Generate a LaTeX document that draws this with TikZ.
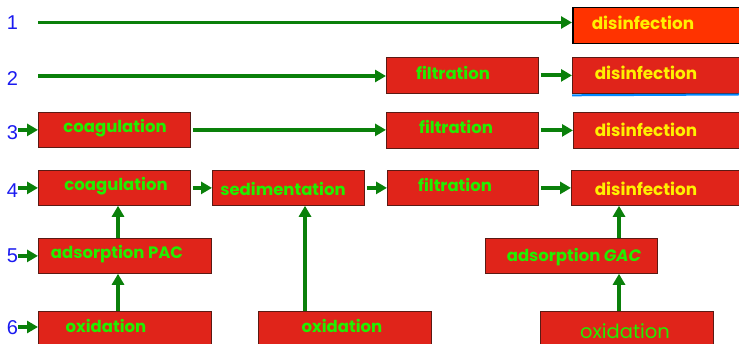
\documentclass[tikz,border=0pt]{standalone}
\usepackage{fontspec}
\setmainfont{Poppins}
\newfontfamily\numfont{Liberation Sans}
\usetikzlibrary{arrows.meta}
\definecolor{boxred}{HTML}{E0241A}
\definecolor{boxedge}{HTML}{5A1A14}
\definecolor{dred}{HTML}{FF3300}
\definecolor{agreen}{HTML}{0A800A}
\definecolor{tgreen}{HTML}{22EE00}
\definecolor{tyellow}{HTML}{FFF000}
\definecolor{nblue}{HTML}{1A1AF0}
\definecolor{lblue}{HTML}{0088FF}
\begin{document}
\begin{tikzpicture}[x=1pt,y=-1pt,
  box/.style={draw=boxedge, line width=0.8pt, fill=boxred, rectangle, anchor=north west, inner sep=0pt},
  gt/.style={text=tgreen, font=\bfseries\fontsize{16.5}{18}\selectfont, inner sep=0pt},
  yt/.style={text=tyellow, font=\bfseries\fontsize{16.8}{18}\selectfont, inner sep=0pt},
  bigt/.style={text=tgreen, font=\fontsize{19.5}{21}\selectfont, inner sep=0pt},
  num/.style={text=nblue, font=\numfont\fontsize{20}{22}\selectfont, inner sep=0pt},
  flow/.style={draw=agreen, line width=3.8pt, -{Triangle[length=11pt,width=12pt]}},
  gapflow/.style={flow, shorten <=2pt}]
\useasboundingbox (0,0) rectangle (739,344);
\clip (0,0) rectangle (739,344);

% boxes
\node[box, fill=dred, draw=black, line width=1.5pt, minimum width=200pt, minimum height=36pt] (dis1) at (572,7) {};
\node[box, minimum width=152pt, minimum height=36pt] (filt2) at (386,57) {};
\node[box, minimum width=200pt, minimum height=36pt] (dis2) at (572,57) {};
\node[box, minimum width=152pt, minimum height=35pt] (coag3) at (38,112) {};
\node[box, minimum width=152pt, minimum height=36pt] (filt3) at (386,112) {};
\node[box, minimum width=200pt, minimum height=36pt] (dis3) at (573,112) {};
\node[box, minimum width=152pt, minimum height=35pt] (coag4) at (38,170) {};
\node[box, minimum width=152pt, minimum height=35pt] (sed4) at (212,170) {};
\node[box, minimum width=151pt, minimum height=35pt] (filt4) at (387,170) {};
\node[box, minimum width=200pt, minimum height=35pt] (dis4) at (571,170) {};
\node[box, minimum width=173pt, minimum height=35pt] (pac) at (38,238) {};
\node[box, minimum width=172pt, minimum height=35pt] (gac) at (485,238) {};
\node[box, minimum width=173pt, minimum height=50pt] (ox1) at (38,311) {};
\node[box, minimum width=173pt, minimum height=50pt] (ox2) at (258,311) {};
\node[box, minimum width=173pt, minimum height=50pt] (ox3) at (540,311) {};

\draw[lblue, line width=2pt] (dis2.south west) ++(0,1.5) -- (739,94.5);

% texts
\node[yt] (t1) at (643,23) {disinfection};
\node[gt] (t2a) at (453,73) {filtration};
\node[yt] (t2b) at (646,73) {disinfection};
\node[gt] (t3a) at (115,128) {coagulation};
\node[gt] (t3b) at (456,127) {filtration};
\node[yt] (t3c) at (646,130) {disinfection};
\node[gt] (t4a) at (116,186) {coagulation};
\node[gt] (t4b) at (283,189) {sedimentation};
\node[gt] (t4c) at (455,185) {filtration};
\node[yt] (t4d) at (646,189) {disinfection};
\node[gt] (t5a) at (117,254) {adsorption PAC};
\node[gt] (t5b) at (574,257) {adsorption \textit{GAC}};
\node[gt] (t6a) at (106,326) {oxidation};
\node[gt] (t6b) at (342,326) {oxidation};
\node[bigt] (t6c) at (625,331) {oxidation};

% row numbers
\node[num] (n1) at (12.5,22.5) {1};
\node[num] (n2) at (12.5,79) {2};
\node[num] (n3) at (12.5,133) {3};
\node[num] (n4) at (12.5,191) {4};
\node[num] (n5) at (12.5,256) {5};
\node[num] (n6) at (12.5,328) {6};

% connectors
\coordinate (s1) at (38,22.5);
\coordinate (s2) at (38,76);
\coordinate (e6) at (38,327);
\draw[flow] (s1) -- (s1 -| dis1.west);
\draw[flow] (s2) -- (s2 -| filt2.west);
\draw[gapflow] (filt2.east) -- (dis2.west);
\draw[flow] (coag3.west -| n3.east) -- (coag3.west);
\draw[gapflow] (coag3.east) -- (coag3.east -| filt3.west);
\draw[gapflow] (filt3.east) -- (filt3.east -| dis3.west);
\draw[flow] (coag4.west -| n4.east) -- (coag4.west);
\draw[gapflow] (coag4.east) -- (sed4.west);
\draw[gapflow] (sed4.east) -- (filt4.west);
\draw[gapflow] (filt4.east) -- (dis4.west);
\draw[flow] (pac.west -| n5.east) -- (pac.west);
\draw[flow] (e6 -| n6.east) -- (e6);

\coordinate (cl) at (118,0);
\coordinate (cm) at (305,0);
\coordinate (cr) at (619,0);
\draw[flow] (ox1.north -| cl) -- (pac.south -| cl);
\draw[flow] (pac.north -| cl) -- (coag4.south -| cl);
\draw[flow] (ox2.north -| cm) -- (sed4.south -| cm);
\draw[flow] (ox3.north -| cr) -- (gac.south -| cr);
\draw[flow] (gac.north -| cr) -- (dis4.south -| cr);
\end{tikzpicture}
\end{document}
